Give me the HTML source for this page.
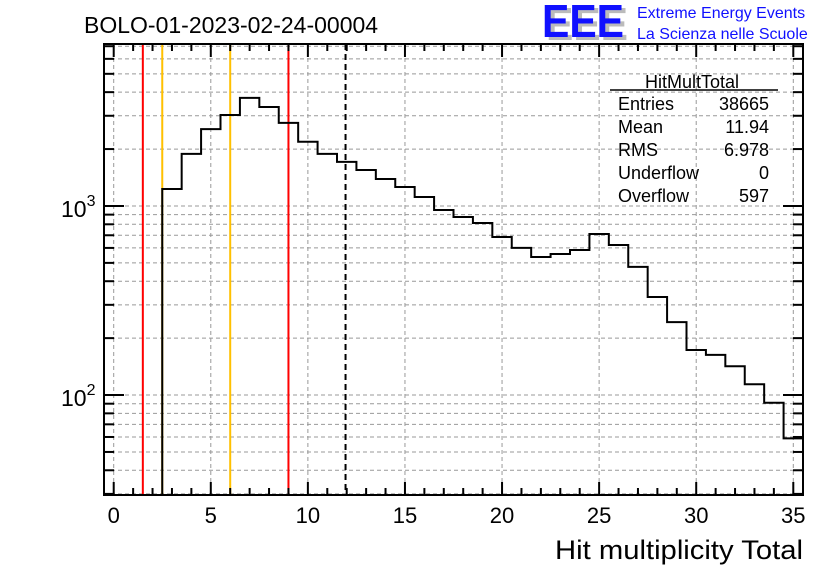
<!DOCTYPE html>
<html><head><meta charset="utf-8"><style>
body{margin:0;background:#fff;}
svg text{font-family:"Liberation Sans",sans-serif;}
</style></head><body>
<svg width="836" height="572" xmlns="http://www.w3.org/2000/svg">
<rect width="836" height="572" fill="#fff"/>
<text x="84" y="33" font-size="23">BOLO-01-2023-02-24-00004</text>
<g>
<text x="546" y="40" font-size="46" font-weight="bold" fill="#bbb" textLength="82" lengthAdjust="spacingAndGlyphs">EEE</text>
<text x="542" y="37" font-size="46" font-weight="bold" fill="#1010ff" textLength="82" lengthAdjust="spacingAndGlyphs">EEE</text>
<text x="637" y="18" font-size="16" fill="#1010ff">Extreme Energy Events</text>
<text x="637" y="39" font-size="16" fill="#1010ff">La Scienza nelle Scuole</text>
</g>
<g id="grid"></g>
<g id="marks"></g>
<g id="axes"></g>
<g font-size="18">
<text x="692" y="88" text-anchor="middle">HitMultTotal</text>
<line x1="610" y1="90" x2="778" y2="90" stroke="#000" stroke-width="1.5"/>
<text x="618" y="110">Entries</text><text x="769" y="110" text-anchor="end">38665</text>
<text x="618" y="133">Mean</text><text x="769" y="133" text-anchor="end">11.94</text>
<text x="618" y="156">RMS</text><text x="769" y="156" text-anchor="end">6.978</text>
<text x="618" y="179">Underflow</text><text x="769" y="179" text-anchor="end">0</text>
<text x="618" y="202">Overflow</text><text x="769" y="202" text-anchor="end">597</text>
</g>
<text x="803" y="559" font-size="27" text-anchor="end" textLength="248" lengthAdjust="spacingAndGlyphs">Hit multiplicity Total</text>
</svg>
<script>
const binCenters=[3,4,5,6,7,8,9,10,11,12,13,14,15,16,17,18,19,20,21,22,23,24,25,26,27,28,29,30,31,32,33,34,35];
const counts=[1230,1885,2550,3030,3730,3340,2750,2185,1885,1710,1550,1390,1260,1115,952,875,813,685,600,537,557,585,711,622,476,330,243,173,163,142,114,91,59];
const xTicks=[0,5,10,15,20,25,30,35];
const yDecades=[2,3];
const redLines=[1.5,9.0];
const yellowLines=[2.5,6.0];
const meanValue=11.94;
const L=104,R=803,T=44,B=495,X0=-0.5,X1=35.5,YMIN=Math.log10(29.6),YMAX=Math.log10(7190);
const sx=v=>L+(v-X0)/(X1-X0)*(R-L);
const sy=v=>B-(Math.log10(v)-YMIN)/(YMAX-YMIN)*(B-T);
const NS="http://www.w3.org/2000/svg";
function mk(p,t,a){const e=document.createElementNS(NS,t);for(const k in a)e.setAttribute(k,a[k]);p.appendChild(e);return e;}
const grid=document.getElementById('grid'),marks=document.getElementById('marks'),axes=document.getElementById('axes');
xTicks.forEach(t=>{const l=mk(grid,'line',{x1:sx(t),x2:sx(t),y1:T,y2:B,stroke:'#999','stroke-dasharray':'4,3','stroke-width':1});
});
for(let d=1;d<=3;d++)for(let m=1;m<10;m++){const v=m*Math.pow(10,d);if(v<29.6||v>7190)continue;
const l=mk(grid,'line',{x1:L,x2:R,y1:sy(v),y2:sy(v),stroke:'#999','stroke-dasharray':'4,3','stroke-width':1});
}
redLines.forEach(v=>{const l=mk(marks,'line',{x1:sx(v),x2:sx(v),y1:T,y2:B,stroke:'#ff0000','stroke-width':2});
});
yellowLines.forEach(v=>{const l=mk(marks,'line',{x1:sx(v),x2:sx(v),y1:T,y2:B,stroke:'#ffc000','stroke-width':2});
});
const ml=mk(marks,'line',{x1:sx(meanValue),x2:sx(meanValue),y1:T,y2:B,stroke:'#000','stroke-width':2,'stroke-dasharray':'6,4'});

let d=`M${sx(binCenters[0]-0.5)},${B}`;
binCenters.forEach((c,i)=>{const y=sy(counts[i]);d+=` L${sx(c-0.5)},${y} L${Math.min(sx(c+0.5),R)},${y}`;});
const h=mk(marks,'path',{d:d,fill:'none',stroke:'#000','stroke-width':2});

const fr=mk(axes,'rect',{x:L,y:T,width:R-L,height:B-T,fill:'none',stroke:'#000','stroke-width':2});

for(let t=0;t<=35;t++){const len=t%5==0?13:7;
mk(axes,'line',{x1:sx(t),x2:sx(t),y1:B,y2:B-len,stroke:'#000','stroke-width':2});
mk(axes,'line',{x1:sx(t),x2:sx(t),y1:T,y2:T+len,stroke:'#000','stroke-width':2});}
xTicks.forEach(t=>{const e=mk(axes,'text',{x:sx(t),y:523,'font-size':22,'text-anchor':'middle'});e.textContent=t;
});
for(let dd=1;dd<=3;dd++)for(let m=1;m<10;m++){const v=m*Math.pow(10,dd);if(v<29.6||v>7190)continue;const len=m==1?20:10;
mk(axes,'line',{x1:L,x2:L+len,y1:sy(v),y2:sy(v),stroke:'#000','stroke-width':2});
mk(axes,'line',{x1:R,x2:R-len,y1:sy(v),y2:sy(v),stroke:'#000','stroke-width':2});}
yDecades.forEach(p=>{const e=mk(axes,'text',{x:61,y:sy(Math.pow(10,p))+11,'font-size':23});e.textContent='10';
const s=mk(e,'tspan',{dy:-11,'font-size':16});s.textContent=p;
});
</script>
</body></html>
